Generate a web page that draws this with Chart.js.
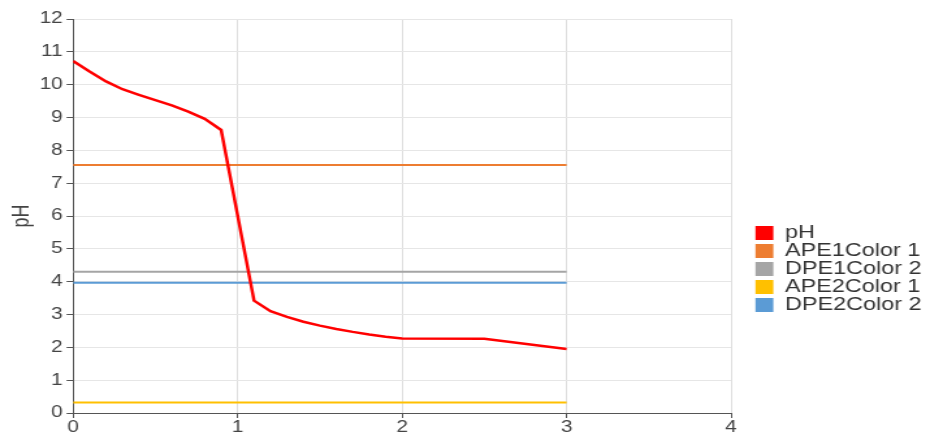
<!DOCTYPE html>
<html>
<head>
<meta charset="utf-8">
<script src="https://cdn.jsdelivr.net/npm/chart.js@4/dist/chart.umd.min.js"></script>
<style>
  html, body { margin: 0; padding: 0; background: #fff; }
</style>
</head>
<body>
<canvas id="c" width="715" height="435" style="display:block;width:930px;height:435px;"></canvas>
<script>
// ---- data ----
const xValues  = [0, 0.1, 0.2, 0.3, 0.4, 0.5, 0.6, 0.7, 0.8, 0.9, 1.1, 1.2, 1.3, 1.4, 1.5, 1.6, 1.7, 1.8, 1.9, 2.0, 2.5, 3.0];
const phValues = [10.72, 10.4, 10.1, 9.86, 9.69, 9.53, 9.37, 9.18, 8.96, 8.62, 3.42, 3.1, 2.93, 2.78, 2.66, 2.56, 2.47, 2.39, 2.32, 2.27, 2.26, 1.95];
const refX     = [0, 3];
const ape1Color1 = [7.55, 7.55];
const dpe1Color2 = [4.3, 4.3];
const ape2Color1 = [0.32, 0.32];
const dpe2Color2 = [3.97, 3.97];
const seriesNames = ['pH', 'APE1Color 1', 'DPE1Color 2', 'APE2Color 1', 'DPE2Color 2'];
const xTicks = [0, 1, 2, 3, 4];
const yTicks = [0, 1, 2, 3, 4, 5, 6, 7, 8, 9, 10, 11, 12];
const yTitle = 'pH';

const colors = ['#ff0000', '#ED7D31', '#A5A5A5', '#FFC000', '#5B9BD5'];
const widths = [2.5, 2, 2, 2, 2];
const toPts = (xs, ys) => xs.map((x, i) => ({ x: x, y: ys[i] }));
const seriesY = [phValues, ape1Color1, dpe1Color2, ape2Color1, dpe2Color2];
const seriesX = [xValues, refX, refX, refX, refX];

const FONT = 'Liberation Sans, Arial, sans-serif';

const datasets = seriesNames.map((name, i) => ({
  label: name,
  data: toPts(seriesX[i], seriesY[i]),
  borderColor: colors[i],
  backgroundColor: colors[i],
  borderWidth: widths[i],
  pointRadius: 0,
  tension: 0,
  xAxisID: 'x',
  yAxisID: 'y'
}));

const defaultGen = Chart.defaults.plugins.legend.labels.generateLabels;

new Chart(document.getElementById('c'), {
  type: 'line',
  data: { datasets: datasets },
  options: {
    responsive: false,
    animation: false,
    devicePixelRatio: 1,
    layout: { padding: { top: 19, left: 0, right: -3.6, bottom: 0 } },
    scales: {
      x: {
        type: 'linear',
        position: 'bottom',
        min: xTicks[0], max: xTicks[xTicks.length - 1],
        afterBuildTicks: s => { s.ticks = xTicks.map(v => ({ value: v })); },
        afterFit: s => { s.height = 22; },
        grid: { color: '#dedede', lineWidth: 1, tickLength: 5, tickColor: '#555' },
        border: { color: '#555', width: 1 },
        ticks: { font: { family: FONT, size: 16 }, color: '#444', padding: 0, maxRotation: 0 }
      },
      y: {
        type: 'linear',
        position: 'left',
        min: yTicks[0], max: yTicks[yTicks.length - 1],
        afterBuildTicks: s => { s.ticks = yTicks.map(v => ({ value: v })); },
        afterFit: s => { s.width = 56.2; },
        grid: { color: '#e6e6e6', lineWidth: 1, tickLength: 5, tickColor: '#555' },
        border: { color: '#555', width: 1 },
        ticks: { font: { family: FONT, size: 16 }, color: '#444', padding: 3 },
        title: { display: true, text: yTitle, font: { family: FONT, size: 18 }, color: '#444', padding: { top: 6, bottom: 0 } }
      },
      spacer: {
        type: 'linear',
        position: 'right',
        display: true,
        grid: { display: false, drawTicks: false },
        border: { display: false },
        ticks: { display: false },
        afterFit: s => { s.width = 18.5; }
      }
    },
    plugins: {
      tooltip: { enabled: false },
      legend: {
        position: 'right',
        align: 'start',
        maxWidth: 200,
        title: { display: true, text: ' ', font: { size: 12 }, padding: { top: 190.6, bottom: 0 } },
        labels: {
          font: { family: FONT, size: 18 },
          color: '#333',
          boxWidth: 14,
          boxHeight: 14,
          padding: 0,
          generateLabels: chart => defaultGen(chart).map(l => Object.assign(l, { lineWidth: 0 }))
        }
      }
    }
  }
});
</script>
</body>
</html>
